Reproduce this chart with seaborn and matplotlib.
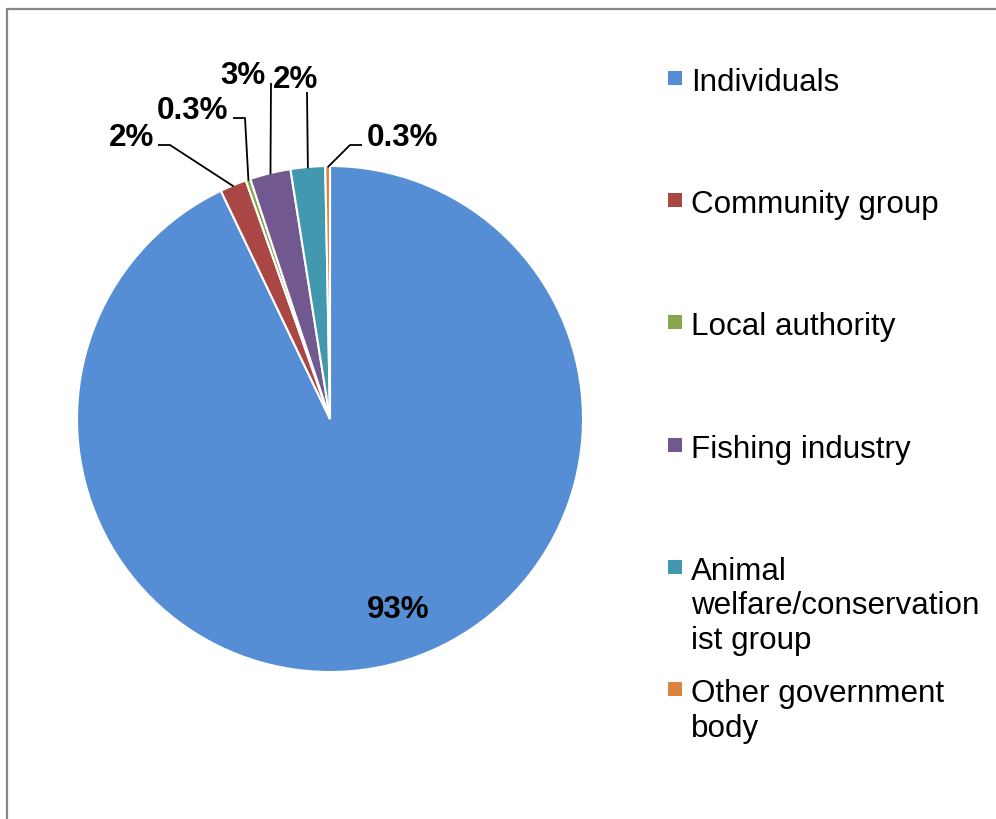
import matplotlib
matplotlib.use('Agg')
import matplotlib.pyplot as plt
from matplotlib.patches import Rectangle
import numpy as np
import seaborn as sns

categories = ['Individuals', 'Community group', 'Local authority', 'Fishing industry',
              'Animal welfare/conservationist group', 'Other government body']
legend_labels = ['Individuals', 'Community group', 'Local authority', 'Fishing industry',
                 'Animal\nwelfare/conservation\nist group', 'Other government\nbody']
shares = [92.9, 1.7, 0.3, 2.6, 2.2, 0.3]
pct_labels = ['93%', '2%', '0.3%', '3%', '2%', '0.3%']
colors = ['#558ED5', '#AA4643', '#89A54E', '#71588F', '#4198AF', '#DB843D']

sns.set_theme(style='white')
plt.rcParams['font.family'] = ['Liberation Sans', 'DejaVu Sans']

W, H = 996, 820
fig = plt.figure(figsize=(W / 100, H / 100), dpi=100)

# pie centre / radius in pixels
cx, cy, r = 330, 420, 253
ax = fig.add_axes([(cx - r) / W, (H - cy - r) / H, 2 * r / W, 2 * r / H])
wedges, _ = ax.pie(shares, colors=colors, startangle=90, counterclock=False, radius=1,
                   wedgeprops=dict(edgecolor='white', linewidth=1.5))
ax.set_xlim(-1, 1)
ax.set_ylim(-1, 1)
ax.set_aspect('equal')
ax.axis('off')


def px(x, y):
    # pixel position -> data coords of the pie axes
    return (x - cx) / r, (cy - y) / r


# label text position (baseline) and leader elbows, in pixels
layout = {
    1: dict(text=(154, 146), ha='right', path=[(158, 146), (170, 146)]),
    2: dict(text=(228, 119), ha='right', path=[(233, 119), (245, 119)]),
    3: dict(text=(266, 84), ha='right', path=[(271, 84)]),
    4: dict(text=(273, 88), ha='left', path=[(307, 93)]),
    5: dict(text=(367, 146), ha='left', path=[(362, 146), (350, 146)]),
}

fs = 22.6
for i, w in enumerate(wedges):
    if i == 0:
        ax.text(*px(398, 618), pct_labels[i], ha='center', va='baseline',
                fontsize=fs, fontweight='bold', color='black')
        continue
    lay = layout[i]
    mid = np.deg2rad((w.theta1 + w.theta2) / 2)
    pts = [px(*p) for p in lay['path']] + [(0.995 * np.cos(mid), 0.995 * np.sin(mid))]
    xs, ys = zip(*pts)
    ax.plot(xs, ys, color='black', lw=1.3, solid_capstyle='butt', clip_on=False)
    ax.text(*px(*lay['text']), pct_labels[i], ha=lay['ha'], va='baseline',
            fontsize=fs, fontweight='bold', color='black')

# legend, evenly spaced entries
for i, lab in enumerate(legend_labels):
    yc = 79 + i * 122.2
    fig.patches.append(Rectangle((668 / W, 1 - (yc + 7) / H), 14 / W, 14 / H,
                                 transform=fig.transFigure, facecolor=colors[i],
                                 edgecolor='none'))
    fig.text(691 / W, 1 - (yc - 11) / H, lab, ha='left', va='top',
             fontsize=fs, color='black', linespacing=1.2)

# outer chart border
fig.patches.append(Rectangle((7 / W, -0.1), 1.2, 1 - 10 / H + 0.1,
                             transform=fig.transFigure, fill=False,
                             edgecolor='#878787', lw=1.6))

fig.savefig('out.png', dpi=100)
